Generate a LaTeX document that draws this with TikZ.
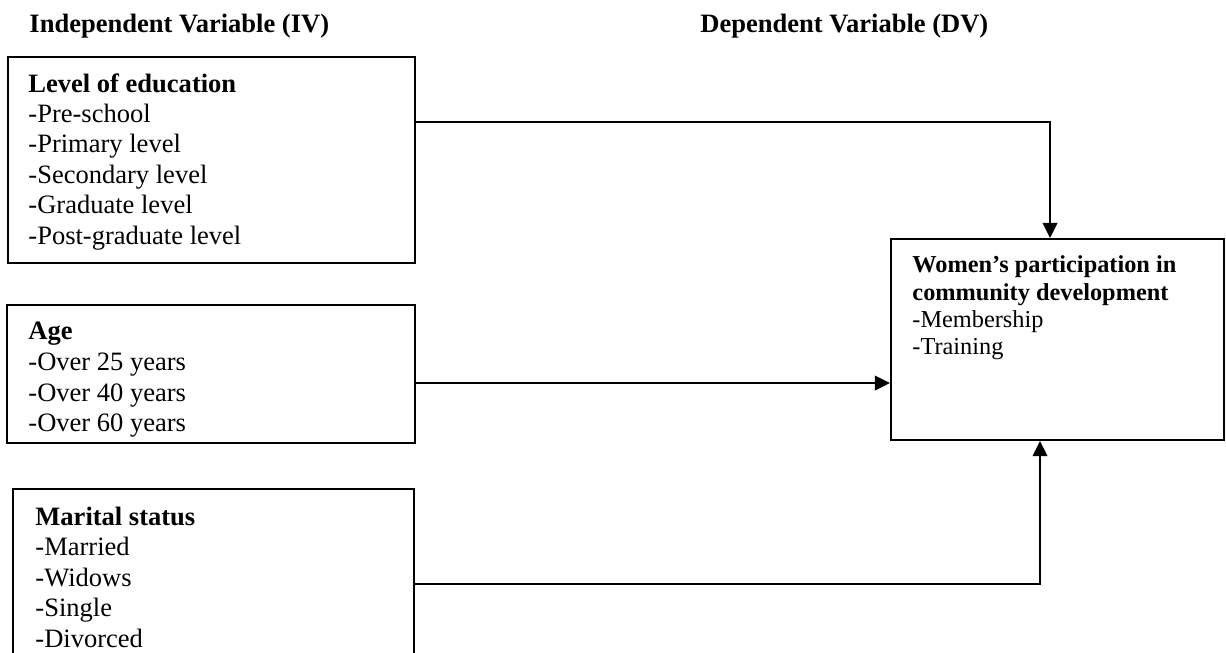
\documentclass[tikz,border=0pt]{standalone}
\usepackage{fontspec}
\setmainfont{Liberation Serif}
\usetikzlibrary{arrows.meta}
\begin{document}
\begin{tikzpicture}[x=0.4524pt,y=-0.4524pt,
  box/.style={draw,line width=0.9pt,inner sep=0,anchor=center},
  lbl/.style={anchor=base west,inner sep=0,font=\fontsize{12pt}{13.8pt}\selectfont},
  hd/.style={anchor=base west,inner sep=0,font=\fontsize{12pt}{13.8pt}\selectfont\bfseries},
  dvl/.style={anchor=base west,inner sep=0,font=\fontsize{11pt}{12.65pt}\selectfont},
  dvh/.style={anchor=base west,inner sep=0,font=\fontsize{11pt}{12.65pt}\selectfont\bfseries},
  arr/.style={line width=0.75pt,-{Triangle[length=6.8pt,width=6.6pt]}}]
\useasboundingbox (0,0) rectangle (1226,652);
\clip (0,0) rectangle (1226,652);
\fill[white] (0,0) rectangle (1226,652);

% headers
\node[hd] (hIV) at (29,32) {Independent Variable (IV)};
\node[hd] (hDV) at (700,32) {Dependent Variable (DV)};

% boxes
\node[box,minimum width=184.13pt,minimum height=93.19pt] (edu) at (211.5,160) {};
\node[box,minimum width=184.58pt,minimum height=62.43pt] (age) at (211,374) {};
\node[box,minimum width=181.41pt,minimum height=95.46pt] (mar) at (213.5,594.5) {};
\node[box,minimum width=150.65pt,minimum height=90.93pt] (dv) at (1057.5,339.5) {};

% education text
\node[hd] (e0) at (28,92) {Level of education};
\node[lbl] (e1) at (28,122) {-Pre-school};
\node[lbl] (e2) at (28,152) {-Primary level};
\node[lbl] (e3) at (28,183) {-Secondary level};
\node[lbl] (e4) at (28,213) {-Graduate level};
\node[lbl] (e5) at (28,244) {-Post-graduate level};

% age text
\node[hd] (a0) at (28,339) {Age};
\node[lbl] (a1) at (28,370) {-Over 25 years};
\node[lbl] (a2) at (28,401) {-Over 40 years};
\node[lbl] (a3) at (28,431) {-Over 60 years};

% marital text
\node[hd] (m0) at (35,525) {Marital status};
\node[lbl] (m1) at (35,555) {-Married};
\node[lbl] (m2) at (35,586) {-Widows};
\node[lbl] (m3) at (35,616) {-Single};
\node[lbl] (m4) at (35,647) {-Divorced};

% DV text
\node[dvh] (d0) at (912,272) {Women’s participation in};
\node[dvh] (d1) at (912,300) {community development};
\node[dvl] (d2) at (912,327) {-Membership};
\node[dvl] (d3) at (912,354) {-Training};

% connector helpers
\coordinate (y1) at (0,122);
\coordinate (x1) at (1050,0);
\coordinate (y3) at (0,584);
\coordinate (x3) at (1040,0);
\coordinate (y2) at (0,383);

\draw[arr] (edu.east |- y1) -| (x1 |- dv.north);
\draw[arr] (age.east |- y2) -- (dv.west |- y2);
\draw[arr] (mar.east |- y3) -| (x3 |- dv.south);
\end{tikzpicture}
\end{document}
